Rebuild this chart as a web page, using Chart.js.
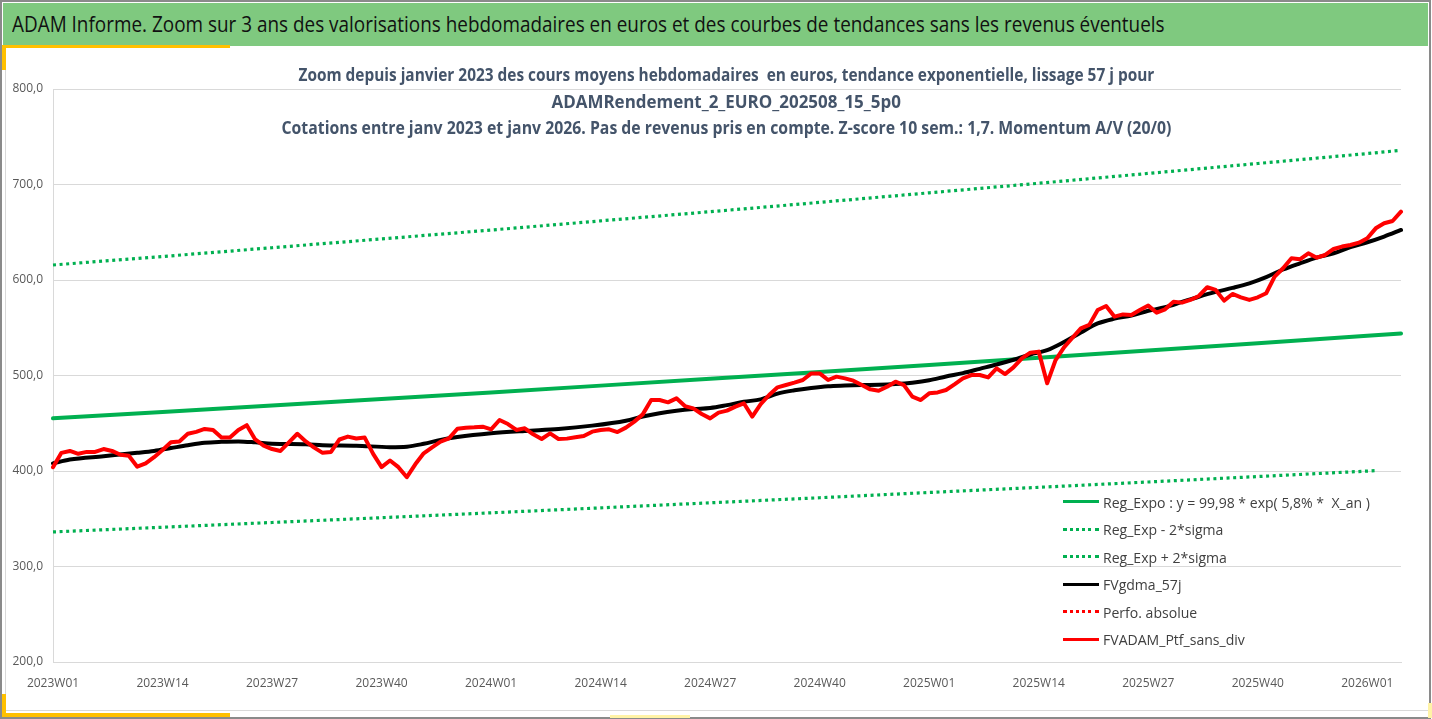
<!DOCTYPE html>
<html lang="fr">
<head>
<meta charset="utf-8">
<title>ADAM Informe</title>
<script src="https://cdn.jsdelivr.net/npm/chart.js@4.4.1/dist/chart.umd.min.js"></script>
<style>
  html, body { margin: 0; padding: 0; background: #fff; }
  body { width: 1432px; height: 719px; position: relative; overflow: hidden; font-family: "Open Sans", "Noto Sans", sans-serif; }
  .outer { position: absolute; left: 0; top: 0; width: 1431px; height: 719px; box-sizing: border-box; border: 2px solid #8a8a8a; }
  .bar { position: absolute; left: 3px; top: 3px; width: 1425px; height: 43px; background: #7fc97f; }
  .bar span { position: absolute; left: 9px; top: 5px; font-size: 22px; color: #111; white-space: pre; transform-origin: left center; }
  .frame { position: absolute; left: 5px; top: 48px; width: 1423px; height: 663px; box-sizing: border-box; border-left: 1px solid #d9d9d9; border-bottom: 1px solid #d9d9d9; }
  .yel { position: absolute; background: #ffc000; }
  .paleyel { position: absolute; background: #fff3a6; }
  #wrap { position: absolute; left: 0; top: 0; width: 1432px; height: 719px; }
  .subtitle { position: absolute; left: 0; top: 62px; width: 1452px; text-align: center; color: #44546a; font-weight: bold; font-size: 17px; }
  .subtitle div { height: 26.5px; line-height: 26.5px; }
  .subtitle span { display: inline-block; white-space: pre; transform-origin: center center; }
  .legend { position: absolute; left: 1063px; top: 488px; }
  .legend .row { display: flex; align-items: center; height: 27.5px; }
  .legend .sample { width: 36px; height: 0; }
  .legend .txt { margin-left: 4px; font-size: 15px; color: #404040; white-space: pre; display: inline-block; transform-origin: left center; }
</style>
</head>
<body>
<div class="outer"></div>
<div class="bar"><span id="mainTitle" data-w="1153">ADAM Informe. Zoom sur 3 ans des valorisations hebdomadaires en euros et des courbes de tendances sans les revenus éventuels</span></div>
<div class="frame"></div>
<div class="yel" style="left:3px;top:45px;width:227px;height:3px"></div>
<div class="yel" style="left:2px;top:45px;width:4px;height:25px"></div>
<div class="yel" style="left:2px;top:713px;width:228px;height:4px"></div>
<div class="yel" style="left:2px;top:694px;width:4px;height:23px"></div>
<div class="paleyel" style="left:610px;top:715px;width:80px;height:3px"></div>
<div class="paleyel" style="left:1428px;top:703px;width:4px;height:15px"></div>

<div id="wrap"><canvas id="chart"></canvas></div>

<div class="subtitle">
  <div><span data-w="856">Zoom depuis janvier 2023 des cours moyens hebdomadaires  en euros, tendance exponentielle, lissage 57 j pour</span></div>
  <div><span data-w="349">ADAMRendement_2_EURO_202508_15_5p0</span></div>
  <div><span data-w="890">Cotations entre janv 2023 et janv 2026. Pas de revenus pris en compte. Z-score 10 sem.: 1,7. Momentum A/V (20/0)</span></div>
</div>

<div class="legend" id="legend"></div>

<script>
// weeks per year shown on the axis (2023W01 .. 2026W05)
const yearWeeks = [[2023, 52], [2024, 52], [2025, 52], [2026, 5]];

// FVADAM_Ptf_sans_div, one value per week
const ptfValues = [
  404, 419, 421, 418, 420, 420, 423, 421, 417, 416,
  404.5, 408, 414.5, 422, 430, 431, 439, 441, 444, 443,
  435, 435, 443, 448, 433, 426.5, 423, 421, 430, 439,
  431, 424.5, 419, 420, 433, 436, 434, 435, 418, 404,
  411, 404, 393.5, 407, 418.5, 424.8, 430.7, 434.2, 444.3, 445.4,
  445.7, 446.4, 443.6, 453.4, 449.2, 443, 444.7, 438.4, 433.5, 439.4,
  433.5, 433.9, 435.3, 436.6, 441.2, 443, 443.6, 440.8, 445.4, 451.7,
  459.3, 474.3, 474.3, 471.9, 476.1, 468, 465.6, 459.7, 455.1, 461.1,
  463.2, 467.4, 470.9, 456.9, 470, 479.6, 487.6, 490, 492.5, 495.3,
  502.2, 502.2, 495.3, 498.8, 497, 494.6, 490, 485.5, 484.1, 488.3,
  493.5, 490, 477.8, 474.3, 481.3, 482.3, 484.8, 490.7, 497, 500.5,
  500.5, 498, 507.5, 501.5, 508.5, 518, 523.9, 525, 491.8, 516.2,
  529.5, 539.5, 549.4, 553, 568.6, 572.8, 561.6, 564, 563.4, 568.6,
  573.2, 565.8, 569.3, 577.3, 576.3, 579.1, 583.3, 592.4, 589.6, 578.4,
  585.4, 581.9, 579.1, 581.9, 586.1, 603.5, 612.3, 622.7, 621.7, 628,
  623.4, 626.2, 632.5, 635, 636.7, 639.1, 643.7, 654.1, 659.4, 661.8,
  671.6
];

// FVgdma_57j, read every few weeks (week index -> value)
const gdmaWeek = [
  0, 2, 6, 10, 12, 14, 16, 18, 20, 22, 24, 26, 30, 32, 36, 40, 42, 44, 46, 48,
  52, 56, 60, 64, 68, 70, 72, 74, 76, 78, 80, 82, 84, 86, 88, 90, 92, 94, 96, 98,
  100, 102, 104, 106, 108, 110, 112, 114, 116, 118, 120, 122, 124, 126, 128, 130,
  132, 134, 136, 138, 140, 142, 144, 146, 148, 150, 152, 154, 156, 158, 160
];
const gdmaValues = [
  408, 412, 415.5, 419, 421, 424, 427, 429.5, 430.5, 431, 430, 428.5, 428, 427, 426.5, 425, 425.5, 428.5, 432.5, 435.5,
  439.5, 442, 444, 447.5, 452.7, 457, 460.5, 463, 464.8, 466, 469, 472.5, 475, 481, 484.5, 487, 488.8, 489.5, 490, 490.2,
  491, 492.5, 495, 499, 502.5, 507, 511.5, 516.5, 522, 526.5, 535, 545, 554.5, 559.5, 562.8, 567.8,
  571.5, 577, 582.5, 587.5, 591.7, 596.5, 603, 611, 617.5, 623.5, 628, 634.5, 639.5, 645.5, 652.4
];

// exponential trend and its +/- 2 sigma bands, read every 13 weeks
const trendWeek = [0, 13, 26, 39, 52, 65, 78, 91, 104, 117, 130, 143, 156, 160];
const trendValues = [455.2, 461.8, 468.6, 475.4, 482.3, 489.4, 496.5, 503.7, 511.1, 518.5, 526.1, 533.8, 541.5, 544.0];
const upperValues = [615.7, 624.6, 633.8, 643.0, 652.3, 661.9, 671.5, 681.3, 691.3, 701.3, 711.6, 722.0, 732.4, 735.8];
const lowerWeek = [0, 13, 26, 39, 52, 65, 78, 91, 104, 117, 130, 143, 156, 157];
const lowerValues = [336.2, 341.1, 346.1, 351.1, 356.2, 361.4, 366.7, 372.0, 377.5, 382.9, 388.5, 394.2, 399.9, 400.4];

const yTicks = [200, 300, 400, 500, 600, 700, 800];

/*************************************************************
 * Helpers
 *************************************************************/
const buildWeeks = (list) => {
  const out = [];
  list.forEach(([year, count]) => {
    for (let w = 1; w <= count; w++) {
      out.push(`${year}W${String(w).padStart(2, "0")}`);
    }
  });
  return out;
};

const weekLabels = buildWeeks(yearWeeks);

const pairs = (weeks, values) =>
  weeks.map((w, i) => ({ x: weekLabels[w], y: values[i] }));

const fitText = (el, width) => {
  el.style.transform = "none";
  const natural = el.offsetWidth;
  if (natural > 0) {
    el.style.transform = `scaleX(${width / natural})`;
  }
};

/*************************************************************
 * Chart
 *************************************************************/
const GREEN = "#00b050";
const RED = "#ff0000";
const DOT = [3, 3.6];

// first dataset is painted last (on top)
const datasets = [
  {
    label: "FVADAM_Ptf_sans_div",
    data: ptfValues,
    borderColor: RED,
    borderWidth: 4,
  },
  {
    label: "Perfo. absolue",
    data: [],
    borderColor: RED,
    borderWidth: 3,
    borderDash: DOT,
  },
  {
    label: "FVgdma_57j",
    data: pairs(gdmaWeek, gdmaValues),
    borderColor: "#000000",
    borderWidth: 4,
    cubicInterpolationMode: "monotone",
  },
  {
    label: "Reg_Exp + 2*sigma",
    data: pairs(trendWeek, upperValues),
    borderColor: GREEN,
    borderWidth: 3.2,
    borderDash: DOT,
    borderCapStyle: "butt",
  },
  {
    label: "Reg_Exp - 2*sigma",
    data: pairs(lowerWeek, lowerValues),
    borderColor: GREEN,
    borderWidth: 3.2,
    borderDash: DOT,
    borderCapStyle: "butt",
  },
  {
    label: "Reg_Expo : y = 99,98 * exp( 5,8% *  X_an )",
    data: pairs(trendWeek, trendValues),
    borderColor: GREEN,
    borderWidth: 4,
  },
];

const TICK_FONT = { family: "'Open Sans', 'Noto Sans', sans-serif", size: 12 };

const chart = new Chart(document.getElementById("chart"), {
  type: "line",
  data: { labels: weekLabels, datasets: datasets },
  options: {
    responsive: true,
    maintainAspectRatio: false,
    animation: false,
    events: [],
    layout: { padding: { top: 89, right: 31, left: 0, bottom: 0 } },
    elements: {
      point: { radius: 0 },
      line: { tension: 0, borderJoinStyle: "round", borderCapStyle: "round", fill: false },
    },
    plugins: {
      legend: { display: false },
      tooltip: { enabled: false },
    },
    scales: {
      x: {
        type: "category",
        offset: false,
        afterFit: (scale) => {
          scale.height = 57;
        },
        border: { color: "#d9d9d9" },
        grid: {
          drawTicks: false,
          lineWidth: 1,
          color: (ctx) => (ctx.index % 13 === 0 ? "#d9d9d9" : "rgba(0,0,0,0)"),
        },
        ticks: {
          autoSkip: false,
          maxRotation: 0,
          padding: 14,
          color: "#595959",
          font: TICK_FONT,
          callback: function (value, index) {
            return index % 13 === 0 ? this.getLabelForValue(value) : null;
          },
        },
      },
      y: {
        min: yTicks[0],
        max: yTicks[yTicks.length - 1],
        afterFit: (scale) => {
          scale.width = 53;
        },
        afterBuildTicks: (scale) => {
          scale.ticks = yTicks.map((v) => ({ value: v }));
        },
        border: { display: false },
        grid: { drawTicks: false, color: "#d9d9d9", lineWidth: 1 },
        ticks: {
          padding: 10,
          color: "#595959",
          font: TICK_FONT,
          callback: (v) => v.toFixed(1).replace(".", ","),
        },
      },
    },
  },
});

/*************************************************************
 * Legend (same order as the reference)
 *************************************************************/
const legendOrder = [
  "Reg_Expo : y = 99,98 * exp( 5,8% *  X_an )",
  "Reg_Exp - 2*sigma",
  "Reg_Exp + 2*sigma",
  "FVgdma_57j",
  "Perfo. absolue",
  "FVADAM_Ptf_sans_div",
];

const buildLegend = () => {
  const box = document.getElementById("legend");
  legendOrder.forEach((name) => {
    const ds = chart.data.datasets.find((d) => d.label === name);
    const row = document.createElement("div");
    row.className = "row";
    const sample = document.createElement("span");
    sample.className = "sample";
    const style = ds.borderDash ? "dotted" : "solid";
    sample.style.borderTop = `3px ${style} ${ds.borderColor}`;
    const txt = document.createElement("span");
    txt.className = "txt";
    txt.textContent = name;
    row.appendChild(sample);
    row.appendChild(txt);
    box.appendChild(row);
  });
};

buildLegend();

const fitAll = () => {
  document.querySelectorAll("[data-w]").forEach((el) => {
    fitText(el, parseFloat(el.dataset.w));
  });
  const txts = Array.from(document.querySelectorAll(".legend .txt"));
  txts.forEach((t) => (t.style.transform = "none"));
  const factor = 267 / txts[0].offsetWidth;
  txts.forEach((t) => (t.style.transform = `scaleX(${factor})`));
};

fitAll();
if (document.fonts && document.fonts.ready) {
  document.fonts.ready.then(fitAll);
}
</script>
</body>
</html>
